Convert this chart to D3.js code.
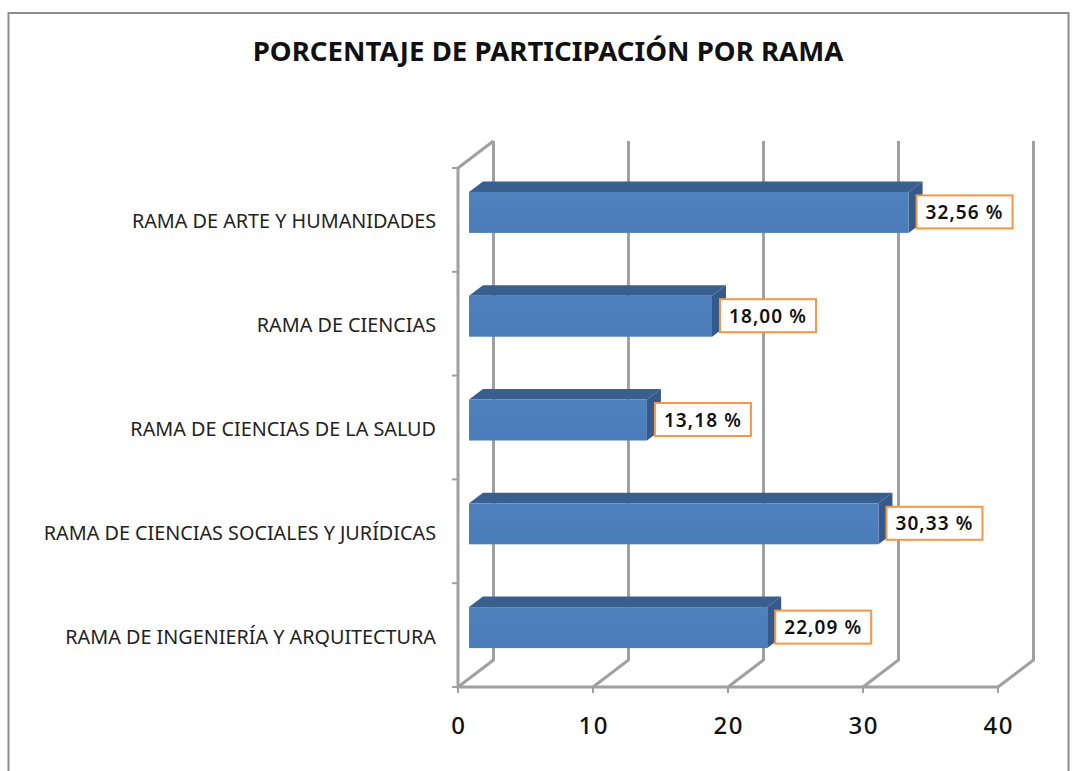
<!DOCTYPE html>
<html>
<head>
<meta charset="utf-8">
<script src="https://cdn.jsdelivr.net/npm/d3@7/dist/d3.min.js"></script>
<style>
  html, body { margin: 0; padding: 0; background: #fff; }
  svg { display: block; }
</style>
</head>
<body>
<div id="chart"></div>
<script>
const categories = [
  "RAMA DE ARTE Y HUMANIDADES",
  "RAMA DE CIENCIAS",
  "RAMA DE CIENCIAS DE LA SALUD",
  "RAMA DE CIENCIAS SOCIALES Y JURÍDICAS",
  "RAMA DE INGENIERÍA Y ARQUITECTURA"
];
const values = [32.56, 18.00, 13.18, 30.33, 22.09];
const valueLabels = ["32,56 %", "18,00 %", "13,18 %", "30,33 %", "22,09 %"];
const xTicks = [0, 10, 20, 30, 40];
const title = "PORCENTAJE DE PARTICIPACIÓN POR RAMA";

const width = 1076, height = 771;
const fontFamily = "'Noto Sans', 'Open Sans', sans-serif";

const svg = d3.select("#chart").append("svg")
    .attr("width", width)
    .attr("height", height);

// Outer chart frame, open at the bottom
svg.append("path")
    .attr("d", "M8.5,771V13H1068.5V771")
    .attr("fill", "none")
    .attr("stroke", "#8c8c8c")
    .attr("stroke-width", 2);

svg.append("text")
    .attr("x", 548)
    .attr("y", 61)
    .attr("text-anchor", "middle")
    .attr("font-family", fontFamily)
    .attr("font-weight", "bold")
    .attr("font-size", 27.6)
    .attr("fill", "#111")
    .text(title);

const x = d3.scaleLinear().domain([0, 40]).range([458, 998]);
const y = d3.scaleBand().domain(categories).range([168, 687]);

// Depth of the back wall and of each bar
const wallDx = 35.5, wallDy = -27;
const barDx = 14, barDy = -10.5;
const barHeight = 41;
const barOffsetX = 11;    // front face starts this far right of the axis
const barOffsetY = -7.5;  // front face centre, relative to band centre

const gridColor = "#a0a0a0";
const grid = svg.append("g")
    .attr("fill", "none")
    .attr("stroke", gridColor)
    .attr("stroke-width", 3);

// Gridlines on the back wall and the floor
xTicks.forEach(t => {
  const x0 = x(t);
  grid.append("path")
      .attr("d", `M${x0},${y.range()[1]}L${x0 + wallDx},${y.range()[1] + wallDy}V${y.range()[0] + wallDy}`);
});

// Front axes
grid.append("path")
    .attr("d", `M${x(0)},${y.range()[0]}L${x(0) + wallDx},${y.range()[0] + wallDy}`);
grid.append("path")
    .attr("d", `M${x(0)},${y.range()[0]}V${y.range()[1]}H${x(40)}`);

// Tick marks on both axes
const yEdges = categories.map(c => y(c)).concat(y.range()[1]);
yEdges.forEach(v => {
  grid.append("line")
      .attr("x1", x(0) - 6).attr("x2", x(0))
      .attr("y1", v).attr("y2", v)
      .attr("stroke-width", 2);
});
xTicks.forEach(t => {
  grid.append("line")
      .attr("x1", x(t)).attr("x2", x(t))
      .attr("y1", y.range()[1]).attr("y2", y.range()[1] + 6)
      .attr("stroke-width", 2);
});

const frontGradient = svg.append("defs").append("linearGradient")
    .attr("id", "front")
    .attr("x1", 0).attr("x2", 0).attr("y1", 0).attr("y2", 1);
frontGradient.append("stop").attr("offset", "0%").attr("stop-color", "#4f81bd");
frontGradient.append("stop").attr("offset", "100%").attr("stop-color", "#4a7cba");

// Bars
categories.forEach((c, i) => {
  const left = x(0) + barOffsetX;
  const right = x(values[i]) + barOffsetX;
  const top = y(c) + y.bandwidth() / 2 + barOffsetY - barHeight / 2;
  const bottom = top + barHeight;
  const g = svg.append("g");

  g.append("path")
      .attr("d", `M${left},${top}L${left + barDx},${top + barDy}H${right + barDx}L${right},${top}Z`)
      .attr("fill", "#3a5f8f");
  g.append("path")
      .attr("d", `M${right},${top}L${right + barDx},${top + barDy}V${bottom + barDy}L${right},${bottom}Z`)
      .attr("fill", "#34598a");
  g.append("rect")
      .attr("x", left)
      .attr("y", top)
      .attr("width", right - left)
      .attr("height", barHeight)
      .attr("fill", "url(#front)");

  // Category label, sits below the bar centre in the original
  svg.append("text")
      .attr("x", 436)
      .attr("y", top + barHeight / 2 + 16)
      .attr("text-anchor", "end")
      .attr("font-family", fontFamily)
      .attr("font-size", 19.8)
      .attr("fill", "#222")
      .text(c);

  // Value label box
  const boxX = right + 8;
  const boxY = top + 3.5;
  svg.append("rect")
      .attr("x", boxX)
      .attr("y", boxY)
      .attr("width", 96)
      .attr("height", 33)
      .attr("fill", "#fff")
      .attr("stroke", "#f79646")
      .attr("stroke-width", 2);
  svg.append("text")
      .attr("x", boxX + 48)
      .attr("y", boxY + 23.5)
      .attr("text-anchor", "middle")
      .attr("font-family", fontFamily)
      .attr("font-weight", 600)
      .attr("font-size", 19)
      .attr("letter-spacing", 1.1)
      .attr("fill", "#111")
      .text(valueLabels[i]);
});

// X tick labels
svg.append("g")
  .selectAll("text")
  .data(xTicks)
  .join("text")
    .attr("x", d => x(d) + 0.75)
    .attr("y", 734)
    .attr("text-anchor", "middle")
    .attr("font-family", fontFamily)
    .attr("font-weight", 500)
    .attr("font-size", 24)
    .attr("letter-spacing", 1.5)
    .attr("fill", "#111")
    .text(d => d);
</script>
</body>
</html>
